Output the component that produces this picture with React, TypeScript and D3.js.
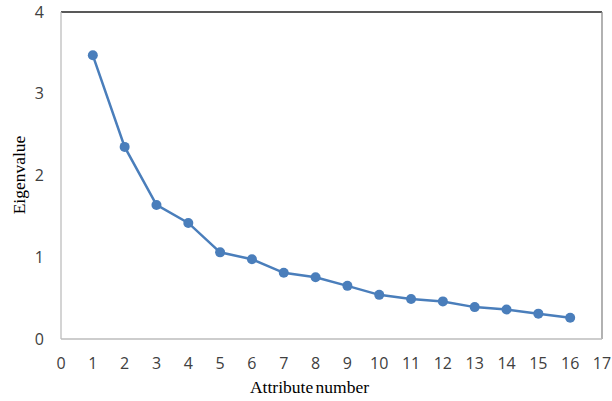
import React from "react";
import * as d3 from "d3";

const attributes = [1, 2, 3, 4, 5, 6, 7, 8, 9, 10, 11, 12, 13, 14, 15, 16];
const eigenvalues = [3.47, 2.35, 1.64, 1.42, 1.06, 0.975, 0.81, 0.755, 0.65, 0.54, 0.49, 0.46, 0.39, 0.36, 0.31, 0.26];
const xTicks = d3.range(0, 18);
const yTicks = [0, 1, 2, 3, 4];

export default function App() {
  const W = 612, H = 401;
  const left = 61, right = 602, top = 12, bottom = 339;
  const x = d3.scaleLinear().domain([0, 17]).range([left, right]);
  const y = d3.scaleLinear().domain([0, 4]).range([bottom, top]);
  const line = d3.line<number>().x((_, i) => x(attributes[i])).y((d) => y(d));
  const blue = "#4a7ebb";
  const tickFont = "'Open Sans', 'Liberation Sans', sans-serif";
  const serif = "'Liberation Serif', 'Times New Roman', serif";
  return (
    <svg width={W} height={H} style={{ position: "absolute", left: 0, top: 0, background: "#fff" }}>
      <rect x={0} y={0} width={W} height={H} fill="#fff" />
      <line x1={left} y1={top} x2={right} y2={top} stroke="#222" strokeWidth={1.3} />
      <line x1={right} y1={top} x2={right} y2={bottom} stroke="#888" strokeWidth={1.3} />
      <line x1={left} y1={top} x2={left} y2={bottom} stroke="#bdbdbd" strokeWidth={1.3} />
      <line x1={left} y1={bottom} x2={right} y2={bottom} stroke="#bdbdbd" strokeWidth={1.3} />
      {yTicks.map((t) => (
        <text key={"y" + t} x={44} y={y(t)} dy="0.35em" textAnchor="end" fontFamily={tickFont} fontSize={16} fill="#404040">
          {t}
        </text>
      ))}
      {xTicks.map((t) => (
        <text key={"x" + t} x={x(t)} y={363} dy="0.35em" textAnchor="middle" fontFamily={tickFont} fontSize={16} fill="#404040">
          {t}
        </text>
      ))}
      <path d={line(eigenvalues) || ""} fill="none" stroke={blue} strokeWidth={2.5} />
      {eigenvalues.map((v, i) => (
        <circle key={i} cx={x(attributes[i])} cy={y(v)} r={5} fill={blue} />
      ))}
      <text x={309.5} y={393} textAnchor="middle" fontFamily={serif} fontSize={17.5} wordSpacing={-2} fill="#000">
        Attribute number
      </text>
      <text transform={`translate(25, 175) rotate(-90)`} textAnchor="middle" fontFamily={serif} fontSize={17.5} fill="#000">
        Eigenvalue
      </text>
    </svg>
  );
}
